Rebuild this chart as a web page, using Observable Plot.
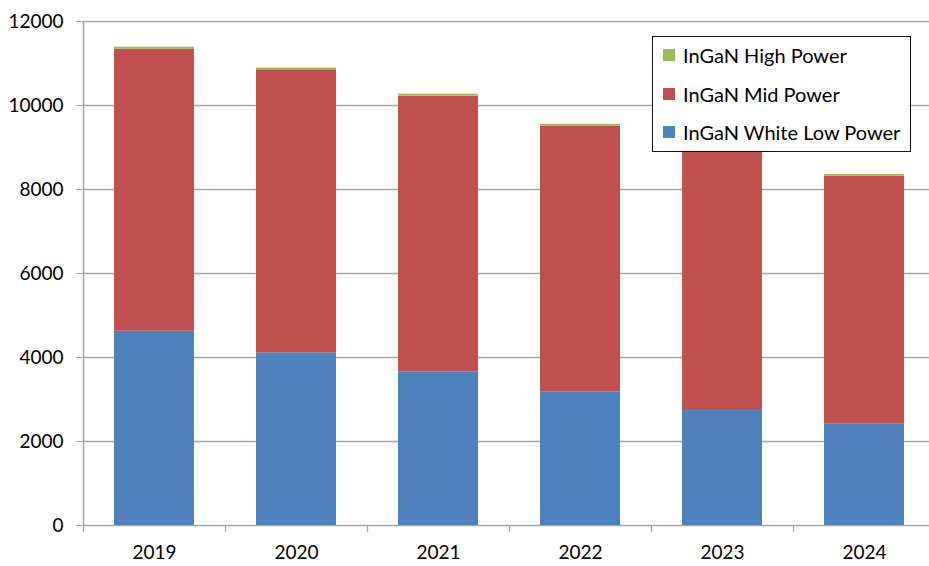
<!DOCTYPE html>
<html>
<head>
<meta charset="utf-8">
<script src="https://cdn.jsdelivr.net/npm/d3@7"></script>
<script src="https://cdn.jsdelivr.net/npm/@observablehq/plot@0.6"></script>
<style>
  html, body { margin: 0; padding: 0; background: #fff; overflow: hidden; }
  #chart { position: relative; width: 929px; height: 566px; overflow: hidden; font-family: Lato, "Open Sans", sans-serif; }
  #chart svg { max-width: none; height: 566px; display: block; }
  #legend {
    position: absolute; left: 652px; top: 36px; width: 257px; height: 114px;
    border: 1.5px solid #111; background: #fff; box-sizing: content-box;
  }
  #legend .item { position: absolute; left: 10px; display: flex; align-items: center; font-size: 20px; color: #000; white-space: nowrap; }
  #legend .sw { width: 12px; height: 12px; margin-right: 8px; }
</style>
</head>
<body>
<div id="chart"></div>
<script>
// Years on the category axis
const years = ["2019", "2020", "2021", "2022", "2023", "2024"];

// Series names, stacked bottom to top
const series = ["InGaN White Low Power", "InGaN Mid Power", "InGaN High Power"];
const colors = ["#4F81BD", "#C0504D", "#9BBB59"];

// Values per series (units)
const lowPower  = [4626, 4112, 3659, 3183, 2762, 2412];
const midPower  = [6715, 6738, 6563, 6324, 6140, 5905];
const highPower = [48, 40, 48, 42, 40, 40];

// Y axis ticks
const yTicks = [0, 2000, 4000, 6000, 8000, 10000, 12000];

const seriesValues = [lowPower, midPower, highPower];
const rows = series.flatMap((s, i) =>
  years.map((y, j) => ({year: y, series: s, value: seriesValues[i][j]}))
);

// The plot frame runs a few pixels past the visible right edge
const W = 935, H = 566;
const mL = 83, mR = 0, mT = 21, mB = 41;
const band = (W - mL - mR) / years.length;
const gray = "#a6a6a6";

const chart = Plot.plot({
  width: W,
  height: H,
  marginLeft: mL,
  marginRight: mR,
  marginTop: mT,
  marginBottom: mB,
  style: {fontFamily: "Lato, 'Open Sans', sans-serif", fontSize: "19px", color: "#000", background: "#fff"},
  x: {domain: years, padding: 0, label: null},
  y: {domain: [0, 12000], label: null},
  color: {domain: series, range: colors},
  marks: [
    Plot.gridY(yTicks, {stroke: gray, strokeOpacity: 1, strokeWidth: 1.3}),
    Plot.barY(rows, {x: "year", y: "value", fill: "series", insetLeft: 31, insetRight: 31}),
    // vertical axis line
    Plot.ruleX([years[0]], {dx: -band / 2, stroke: gray, strokeWidth: 1.5, insetBottom: -7}),
    // category boundary ticks below the baseline
    Plot.ruleX(years.slice(1), {dx: -band / 2, stroke: gray, strokeWidth: 1.3, insetTop: H - mT - mB, insetBottom: -7}),
    Plot.axisY(yTicks, {tickSize: 7, tickPadding: 13, stroke: gray, tickFormat: d => String(d), label: null}),
    Plot.axisX({tickSize: 0, tickPadding: 20, label: null})
  ]
});

const host = document.getElementById("chart");
host.appendChild(chart);

// Legend box drawn in the upper right of the plot area
const legend = document.createElement("div");
legend.id = "legend";
[...series].reverse().forEach((s, k) => {
  const item = document.createElement("div");
  item.className = "item";
  item.style.top = (6 + k * 38.5) + "px";
  const sw = document.createElement("span");
  sw.className = "sw";
  sw.style.background = colors[series.indexOf(s)];
  const label = document.createElement("span");
  label.textContent = s;
  item.appendChild(sw);
  item.appendChild(label);
  legend.appendChild(item);
});
host.appendChild(legend);
</script>
</body>
</html>
